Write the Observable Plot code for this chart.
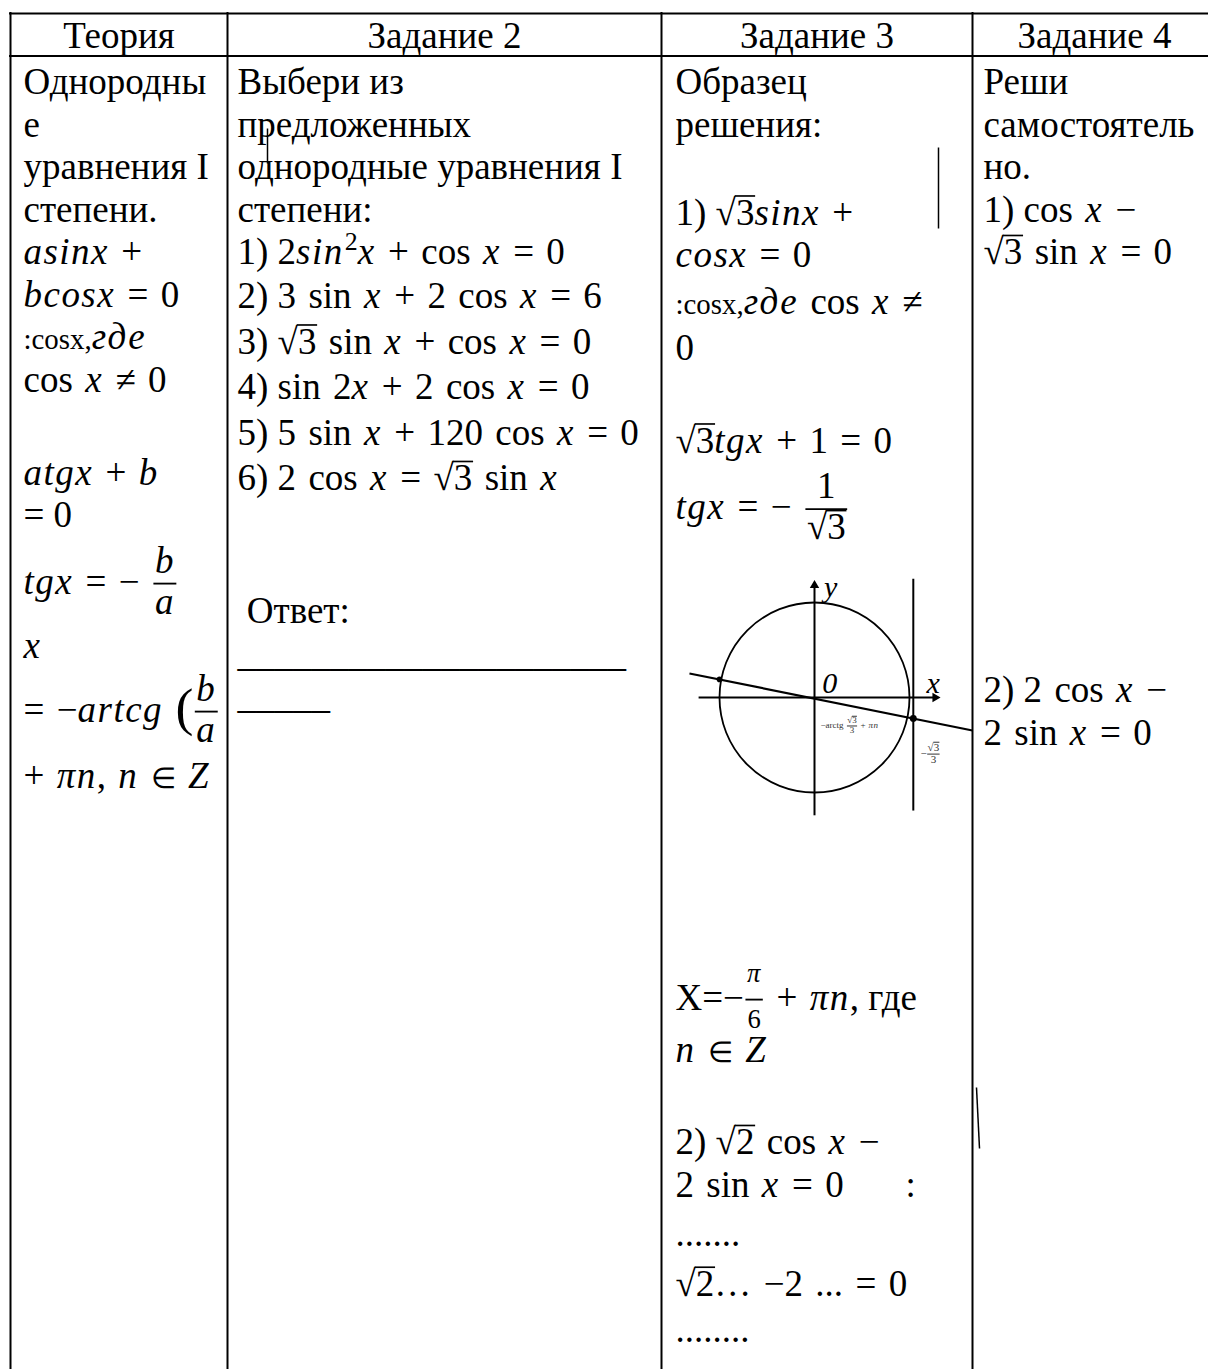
<!DOCTYPE html>
<html><head><meta charset="utf-8">
<script src="https://cdn.jsdelivr.net/npm/d3@7"></script>
<script src="https://cdn.jsdelivr.net/npm/@observablehq/plot@0.6"></script>
<style>body{margin:0;background:#fff} svg text{white-space:pre}</style>
</head><body><div id="chart"></div>
<script>
// ---------- content ----------
const headers = ["Теория", "Задание 2", "Задание 3", "Задание 4"];
// markup: *italic*  %plain text%  ~small plain~  ^sup^  √[radicand]  {num|den}  {!num|den} small fraction  #( big paren
const theoryLines = ["Однородны", "е", "уравнения I", "степени.", "*asinx* +", "*bcosx* = 0",
  "~:cosx,~*где*", "cos *x* ≠ 0", "", "*atgx* + *b*", "= 0", "*tgx* = − {*b*|*a*}", "*x*",
  "= −*artcg* #({*b*|*a*}", "+ *πn*, *n* ~∈~ *Z*"];
const task2Lines = ["Выбери из", "предложенных", "однородные уравнения I", "степени:",
  "%1) %2*sin*^2^*x* + cos *x* = 0", "%2) %3 sin *x* + 2 cos *x* = 6", "%3) %√[3] sin *x* + cos *x* = 0",
  "%4) %sin 2*x* + 2 cos *x* = 0", "%5) %5 sin *x* + 120 cos *x* = 0", "%6) %2 cos *x* = √[3] sin *x*",
  "", "", "\u00A0Ответ:", "_____________________", "_____"];
const task3Lines = ["Образец", "решения:", "", "%1) %√[3]*sinx* +", "*cosx* = 0", "~:cosx,~*где* cos *x* ≠", "0",
  "", "√[3]*tgx* + 1 = 0", "*tgx* = − {1|√[3]}", "", "%X=%−{!*π*|6} + *πn*%, где%", "*n* ~∈~ *Z*", "",
  "%2) %√[2] cos *x* −", "2 sin *x* = 0     :", ".......", "√[2]… −2 ... = 0", "........"];
const task4Lines = ["Реши", "самостоятель", "но.", "%1) %cos *x* −", "√[3] sin *x* = 0", "",
  "%2) %2 cos *x* −", "2 sin *x* = 0"];

// unit-circle sketch (unit coordinates, radius 1)
const circleCenter = [{u: 0, v: 0}];
const axisSegments = [{u1: -1.22, v1: 0, u2: 1.25, v2: 0}, {u1: 0, v1: -1.24, u2: 0, v2: 1.16}];
const arrowTips = [{u: 1.27, v: 0, rot: 90}, {u: 0, v: 1.18, rot: 0}];
const tangentLine = [{u1: 1.04, v1: 1.25, u2: 1.04, v2: -1.19}];
const solutionLine = [{u1: -1.316, v1: 0.253, u2: 1.663, v2: -0.347}];
const solutionPoints = [{u: -1.0, v: 0.19, r: 3}, {u: 1.04, v: -0.22, r: 4.5}];
const axisLabels = [{u: 0.17, v: 1.16, t: "y"}, {u: 1.25, v: 0.15, t: "x"}, {u: 0.16, v: 0.15, t: "0"}];
const smallLabels = [{u: 0.063, v: -0.295, t: "−arctg {√[3]|3} + *πn*", s: 9}, {u: 1.116, v: -0.59, t: "−{√[3]|3}", s: 11}];

// stray cursor marks present in the scan
const strayMarks = [{x1: 267, y1: 128, x2: 267, y2: 163}, {x1: 938, y1: 147, x2: 938, y2: 228}, {x1: 976, y1: 1087, x2: 979, y2: 1148}];

// ---------- layout ----------
const W = 1208, H = 1369, FS = 37;
const layout = {
  colEdges: [10, 227, 661, 972, 1216],
  tableTop: 13, headerBottom: 55.5, headerY: 36,
  textX: [23, 237, 675, 983],
  bodyTop: 60.75,
  rowHeights: [
    [42.5,42.5,42.5,42.5,42.5,42.5,42.5,42.5,50.5,42.5,42.5,90,38,90,42.5],
    [42.5,42.5,42.5,42.5,42.5,45.5,45.5,45.5,45.5,45.5,44.5,44.5,42.5,42.5,42.5],
    [42.5,42.5,45.5,42.5,42.5,50,42.5,50.5,42.5,90,414.5,62,42.5,50,42.5,42.5,55,46,46],
    [42.5,42.5,42.5,42.5,42.5,395.5,42.5,42.5]
  ],
  fig: {cx: 814, cy: 697, R: 95},
  mathSpace: "\u2004", italicSpacing: 0.04
};
const columns = [theoryLines, task2Lines, task3Lines, task4Lines];
function centers(hs) { let y = layout.bodyTop; return hs.map(h => { const c = y + h / 2; y += h; return c; }); }
const px = u => layout.fig.cx + u * layout.fig.R;
const py = v => layout.fig.cy - v * layout.fig.R;
const E = layout.colEdges;

const textMarks = columns.map((lines, c) => {
  const ys = centers(layout.rowHeights[c]);
  const rows = lines.map((t, i) => ({t, y: ys[i]})).filter(d => d.t);
  return Plot.text(rows, {x: layout.textX[c], y: "y", text: "t", textAnchor: "start", fontSize: FS, fill: "black", ariaLabel: "col" + c});
});

const svg = Plot.plot({
  width: W, height: H, margin: 0,
  x: {domain: [0, W], range: [0, W], axis: null},
  y: {domain: [0, H], range: [0, H], axis: null},
  style: {background: "#fff", fontFamily: "'Liberation Serif', 'Times New Roman', serif", color: "#000"},
  marks: [
    Plot.ruleY([layout.tableTop, layout.headerBottom], {x1: E[0] - 1, x2: E[4], strokeWidth: 2, stroke: "black"}),
    Plot.ruleX(E, {y1: layout.tableTop - 1, y2: H, strokeWidth: 2, stroke: "black"}),
    Plot.text(headers, {x: (d, i) => (E[i] + E[i + 1]) / 2, y: layout.headerY, text: d => d, fontSize: FS, fill: "black"}),
    ...textMarks,
    // sketch
    Plot.dot(circleCenter, {x: d => px(d.u), y: d => py(d.v), r: layout.fig.R, stroke: "black", strokeWidth: 1.8, fill: "none"}),
    Plot.link(axisSegments, {x1: d => px(d.u1), y1: d => py(d.v1), x2: d => px(d.u2), y2: d => py(d.v2), stroke: "black", strokeWidth: 2}),
    Plot.dot(arrowTips, {x: d => px(d.u), y: d => py(d.v), symbol: "triangle2", r: 4.5, fill: "black", stroke: "none", rotate: "rot"}),
    Plot.link(tangentLine, {x1: d => px(d.u1), y1: d => py(d.v1), x2: d => px(d.u2), y2: d => py(d.v2), stroke: "black", strokeWidth: 2}),
    Plot.link(solutionLine, {x1: d => px(d.u1), y1: d => py(d.v1), x2: d => px(d.u2), y2: d => py(d.v2), stroke: "black", strokeWidth: 2.2}),
    Plot.dot(solutionPoints, {x: d => px(d.u), y: d => py(d.v), r: "r", fill: "black", stroke: "none"}),
    Plot.text(axisLabels, {x: d => px(d.u), y: d => py(d.v), text: "t", fontSize: 30, fontStyle: "italic", fill: "black"}),
    ...smallLabels.map(d => Plot.text([d], {x: px(d.u), y: py(d.v), text: "t", fontSize: d.s, fill: "#333", textAnchor: "start"})),
    Plot.link(strayMarks, {x1: "x1", y1: "y1", x2: "x2", y2: "y2", stroke: "black", strokeWidth: 1.5})
  ]
});
document.getElementById("chart").append(svg);

// ---------- inline math markup renderer ----------
const NS = "http://www.w3.org/2000/svg";
function parse(s) {
  let i = 0, it = false, sm = false, pl = false;
  function seq(stops) {
    const out = []; let buf = "";
    const flush = () => { if (buf) out.push({k: "t", s: buf, it, sm, pl}); buf = ""; };
    while (i < s.length) {
      const c = s[i];
      if (stops && stops.includes(c)) break;
      if (c === "*") { flush(); it = !it; i++; }
      else if (c === "~") { flush(); sm = !sm; i++; }
      else if (c === "%") { flush(); pl = !pl; i++; }
      else if (c === "^") { flush(); i++; const body = seq("^"); i++; out.push({k: "sup", body}); }
      else if (c === "√" && s[i + 1] === "[") { flush(); i += 2; const body = seq("]"); i++; out.push({k: "sqrt", body}); }
      else if (c === "{") { flush(); i++; let small = false; if (s[i] === "!") { small = true; i++; }
        const num = seq("|"); i++; const den = seq("}"); i++; out.push({k: "frac", num, den, small}); }
      else if (c === "#" && s[i + 1] === "(") { flush(); i += 2; out.push({k: "paren"}); }
      else { buf += c; i++; }
    }
    flush();
    return out;
  }
  return seq("");
}
function tsp(ctx, s, x, y, fs, it, ls) {
  const t = document.createElementNS(NS, "tspan");
  t.setAttribute("x", x); t.setAttribute("y", y); t.setAttribute("font-size", fs);
  if (it) t.setAttribute("font-style", "italic");
  if (ls) t.setAttribute("letter-spacing", ls);
  t.textContent = s;
  ctx.text.appendChild(t); ctx.created.push(t);
  return t.getComputedTextLength();
}
function hrule(ctx, x1, x2, y, w) {
  const l = document.createElementNS(NS, "line");
  l.setAttribute("x1", x1); l.setAttribute("x2", x2); l.setAttribute("y1", y); l.setAttribute("y2", y);
  l.setAttribute("stroke", ctx.color); l.setAttribute("stroke-width", w);
  if (ctx.tr) l.setAttribute("transform", ctx.tr);
  ctx.g.appendChild(l); ctx.created.push(l);
}
function shift(els, dx) {
  for (const e of els) {
    if (e.tagName === "tspan") e.setAttribute("x", +e.getAttribute("x") + dx);
    else { e.setAttribute("x1", +e.getAttribute("x1") + dx); e.setAttribute("x2", +e.getAttribute("x2") + dx); }
  }
}
function lay(nodes, x, base, size, ctx) {
  for (const n of nodes) {
    if (n.k === "t") {
      if (n.sm || n.pl) x += tsp(ctx, n.s, x, base, size * (n.sm ? 0.78 : 1), n.it, 0);
      else x += tsp(ctx, n.s.replace(/ /g, layout.mathSpace), x, base, size, n.it, n.it ? layout.italicSpacing * size : 0);
    }
    else if (n.k === "sup") x = lay(n.body, x + 0.03 * size, base - 0.4 * size, size * 0.7, ctx);
    else if (n.k === "paren") x += tsp(ctx, "(", x, base + 0.1 * size, size * 1.45, false, 0);
    else if (n.k === "sqrt") {
      const x0 = x + tsp(ctx, "√", x, base, size, false, 0);
      const x1 = lay(n.body, x0, base, size, ctx);
      hrule(ctx, x0 - 0.03 * size, x1 + 0.02 * size, base - 0.78 * size, Math.max(1, 0.045 * size));
      x = x1;
    } else if (n.k === "frac") {
      const fs = n.small ? size * 0.72 : size;
      const axis = base - 0.27 * size;
      const nb = axis - (n.small ? 0.65 : 0.3) * fs;
      const db = axis + (n.small ? 1.05 : 0.82) * fs;
      const pad = 0.08 * size;
      let i0 = ctx.created.length;
      const wn = lay(n.num, 0, nb, fs, ctx);
      const numEls = ctx.created.slice(i0);
      i0 = ctx.created.length;
      const wd = lay(n.den, 0, db, fs, ctx);
      const denEls = ctx.created.slice(i0);
      const w = Math.max(wn, wd) + 2 * pad;
      shift(numEls, x + (w - wn) / 2);
      shift(denEls, x + (w - wd) / 2);
      hrule(ctx, x + pad * 0.5, x + w - pad * 0.5, axis, Math.max(1, 0.05 * size));
      x += w;
    }
  }
  return x;
}
for (const text of Array.from(svg.querySelectorAll("text"))) {
  const raw = text.textContent;
  if (!/[*^√{~#%]/.test(raw)) continue;
  const size = parseFloat(getComputedStyle(text).fontSize);
  const x0 = parseFloat(text.getAttribute("x")) || 0;
  const ya = text.getAttribute("y");
  const by = ya && !ya.endsWith("em") ? +ya : 0;
  text.removeAttribute("y"); text.removeAttribute("dy");
  text.textContent = "";
  const ctx = {text, g: text.parentNode, tr: text.getAttribute("transform"), created: [], color: getComputedStyle(text).fill};
  lay(parse(raw), x0, by + 0.32 * size, size, ctx);
}
// clip the theory column at its border, as in the original
const defs = document.createElementNS(NS, "defs");
const cp = document.createElementNS(NS, "clipPath"); cp.setAttribute("id", "clip-theory");
const cr = document.createElementNS(NS, "rect");
cr.setAttribute("x", E[0] + 1); cr.setAttribute("y", 0); cr.setAttribute("width", E[1] - E[0] - 2); cr.setAttribute("height", H);
cp.appendChild(cr); defs.appendChild(cp); svg.insertBefore(defs, svg.firstChild);
const g0 = svg.querySelector('g[aria-label="col0"]');
if (g0) g0.setAttribute("clip-path", "url(#clip-theory)");
</script>
</body></html>
